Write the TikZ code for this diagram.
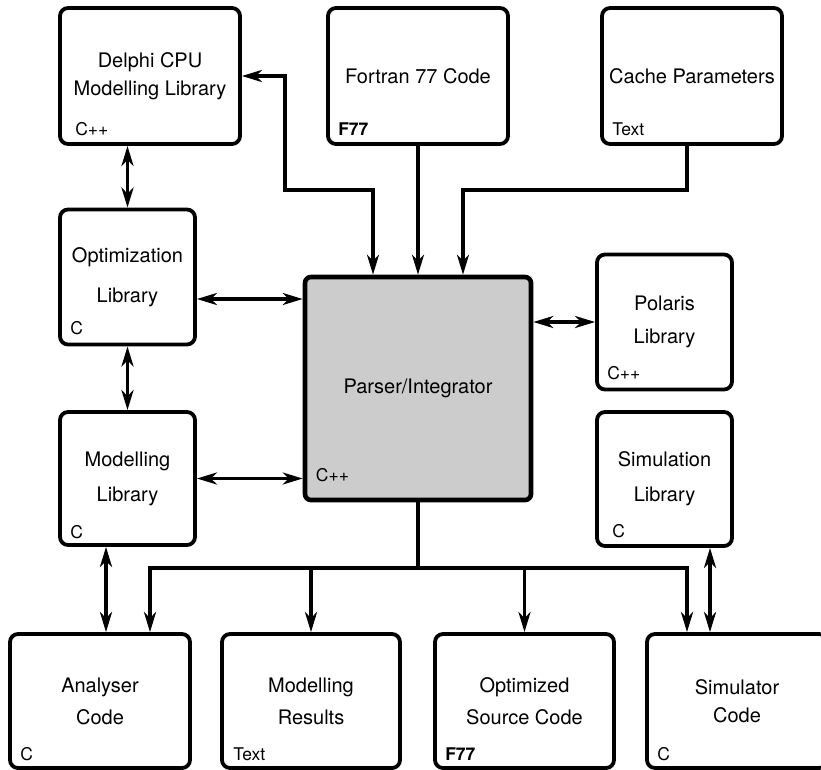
\documentclass[tikz,border=0pt]{standalone}
\usepackage{fontspec}
\setmainfont{TeX Gyre Heros}
\usetikzlibrary{arrows.meta,positioning,calc}
\definecolor{pc}{RGB}{204,204,204}
\tikzset{box/.style={draw,line width=3.8pt,rounded corners=8pt,align=center,inner sep=0pt,
   font=\fontsize{20}{30}\selectfont},
 wide/.style={box,minimum width=180pt,minimum height=134pt},
 narrow/.style={box,minimum width=135pt,minimum height=135pt},
 core/.style={box,fill=pc,line width=4.6pt,rounded corners=6pt,minimum width=226pt,minimum height=223pt},
 tag/.style={anchor=west,inner sep=0pt,font=\fontsize{17.5}{20}\selectfont},
 wire/.style={line width=3.3pt},
 tip/.tip={Stealth[length=20pt,width=12pt,inset=6pt]},
 arr/.style={wire,-tip},biarr/.style={wire,tip-tip}}

\begin{document}
\begin{tikzpicture}[x=1pt,y=-1pt]
\useasboundingbox (0,0) rectangle (821,769);
% top row
\node[wide,minimum height=136pt] (delphi) at (150,76) {Delphi CPU\\[-2pt]Modelling Library};
\node[wide,minimum height=136pt] (fortran) at (418,76) {Fortran 77 Code};
\node[wide,minimum height=136pt] (cache) at (692,76) {Cache Parameters};
% middle
\node[narrow] (optim) at (127.5,277) {Optimization\\[10pt]Library};
\node[core] (parser) at (418,388.5) {Parser/Integrator};
\node[narrow] (polaris) at (664.5,322) {Polaris\\[3pt]Library};
\node[narrow,minimum height=133pt] (modlib) at (127.5,478.5) {Modelling\\[5pt]Library};
\node[narrow,minimum height=134pt] (simlib) at (664.5,479) {Simulation\\[5pt]Library};
% bottom row
\node[wide] (analyser) at (100,701) {Analyser\\[2pt]Code};
\node[wide,minimum width=178pt] (results) at (311,701) {Modelling\\[2pt]Results};
\node[wide,minimum width=179pt] (optsrc) at (524.5,701) {Optimized\\[2pt]Source Code};
\node[wide] (simcode) at (737,701) {Simulator\\[-2pt]Code};
% language tags
\node[tag] (delphiT) at ([shift={(17,-17)}]delphi.south west) {C++};
\node[tag] (fortranT) at ([shift={(12,-17)}]fortran.south west) {\bfseries F77};
\node[tag] (cacheT) at ([shift={(12,-17)}]cache.south west) {Text};
\node[tag] (optimT) at ([shift={(12,-18)}]optim.south west) {C};
\node[tag] (parserT) at ([shift={(13,-27)}]parser.south west) {C++};
\node[tag] (polarisT) at ([shift={(12,-18)}]polaris.south west) {C++};
\node[tag] (modlibT) at ([shift={(12,-15)}]modlib.south west) {C};
\node[tag] (simlibT) at ([shift={(17,-17)}]simlib.south west) {C};
\node[tag] (analyserT) at ([shift={(12,-16)}]analyser.south west) {C};
\node[tag] (resultsT) at ([shift={(13,-16)}]results.south west) {Text};
\node[tag] (optsrcT) at ([shift={(12,-16)}]optsrc.south west) {\bfseries F77};
\node[tag] (simcodeT) at ([shift={(12,-16)}]simcode.south west) {C};
% connectors
\coordinate (top) at (418,190);
\coordinate (bus) at (418,568);
\draw[biarr] (optim.north |- delphi.south) -- (optim.north);
\draw[biarr] (optim.south) -- (modlib.north);
\draw[biarr] ([xshift=-21.5pt]modlib.south) -- ([xshift=-21.5pt]modlib.south |- analyser.north);
\draw[biarr] ([yshift=-22pt]optim.east) -- ([yshift=-22pt]optim.east -| parser.west);
\draw[biarr] (modlib.east) -- (modlib.east -| parser.west);
\draw[biarr] (polaris.west -| parser.east) -- (polaris.west);
\draw[biarr] ([xshift=45.5pt]simlib.south) -- ([xshift=45.5pt]simlib.south |- simcode.north);
\draw[biarr] (delphi.east) -| ([xshift=-133pt]top) -| ([xshift=-45pt]parser.north);
\draw[arr] (fortran.south) -- (parser.north);
\draw[arr] ([xshift=-5pt]cache.south) |- ([xshift=45pt]top) -- ([xshift=45pt]parser.north);
\draw[wire] (parser.south) -- (bus);
\draw[biarr] ([xshift=50pt]analyser.north) |- (bus) -| ([xshift=-50pt]simcode.north);
\draw[arr] (bus -| results.north) -- (results.north);
\draw[arr] (bus -| optsrc.north) -- (optsrc.north);
\end{tikzpicture}
\end{document}
